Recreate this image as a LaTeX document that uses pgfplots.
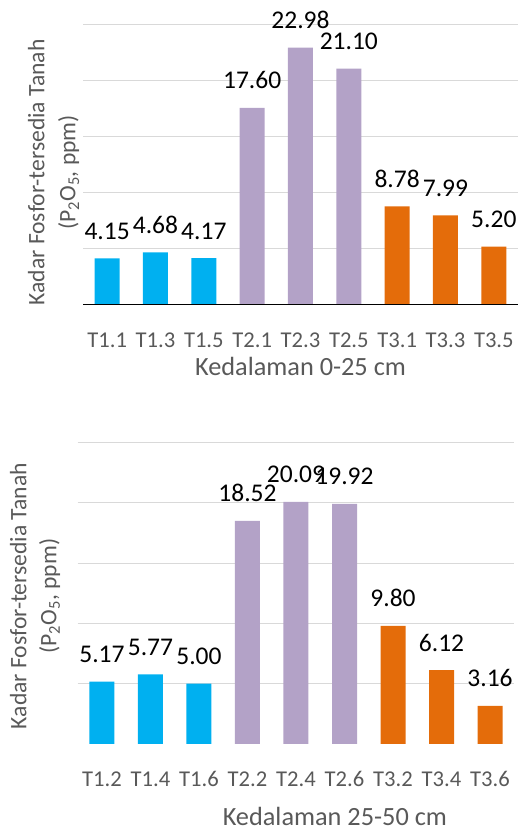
\documentclass[border=0pt]{standalone}
\usepackage{fontspec}
\setmainfont{Carlito}
\usepackage{pgfplots}
\pgfplotsset{compat=1.18}

\definecolor{barblue}{HTML}{00B0F0}
\definecolor{barlilac}{HTML}{B3A2C7}
\definecolor{barorange}{HTML}{E46C0A}
\definecolor{txtgray}{HTML}{595959}
\definecolor{gridgray}{HTML}{D9D9D9}

% common look of both depth panels
\pgfplotsset{
  soilbars/.style={
    scale only axis,
    ybar, bar width=25bp,
    xmin=-0.5, xmax=8.5, ymin=0, ymax=25,
    xtick={0,...,8},
    ytick={5,10,15,20,25}, yticklabels={},
    ymajorgrids,
    major grid style={gridgray, line width=1bp},
    separate axis lines,
    axis x line*=bottom, axis y line*=left,
    x axis line style={draw=none},
    y axis line style={draw=none},
    major tick style={draw=none},
    xticklabel style={font=\fontsize{22.6bp}{26bp}\selectfont, txtgray,
      anchor=base, yshift=-38.6bp},
    nodes near coords,
    /pgf/number format/.cd, fixed, fixed zerofill, precision=2,
      assume math mode=true,
    /pgfplots/.cd,
    every node near coord/.append style={font=\fontsize{25.5bp}{30bp}\selectfont,
      black, anchor=base, yshift=19bp, inner sep=0pt},
    every axis plot/.append style={draw=none, bar shift=0pt},
  }
}

\begin{document}
\begin{tikzpicture}
\useasboundingbox (0,0) rectangle (524bp,832bp);

% depth 0-25 cm
\begin{axis}[soilbars,
  at={(83bp,527.3bp)}, anchor=south west,
  width=435bp, height=279.7bp,
  xticklabels={T1.1,T1.3,T1.5,T2.1,T2.3,T2.5,T3.1,T3.3,T3.5},
  xlabel={Kedalaman 0-25 cm},
  xlabel style={font=\fontsize{26.3bp}{30bp}\selectfont, txtgray, inner sep=0pt,
    at={(axis description cs:0.5,0)}, anchor=base, yshift=-71.3bp},
  ylabel={Kadar Fosfor-tersedia Tanah\\(P\textsubscript{2}O\textsubscript{5}, ppm)},
  ylabel style={font=\fontsize{23.6bp}{31bp}\selectfont, txtgray, align=center,
    at={(axis description cs:-0.0676,0.473)}, anchor=center},
]
\addplot[fill=barblue]   coordinates {(0,4.15) (1,4.68) (2,4.17)};
\addplot[fill=barlilac]  coordinates {(3,17.60) (4,22.98) (5,21.10)};
\addplot[fill=barorange] coordinates {(6,8.78) (7,7.99) (8,5.20)};
\draw[black, line width=1bp] (rel axis cs:0,0) -- (rel axis cs:1,0);
\end{axis}

% depth 25-50 cm
\begin{axis}[soilbars,
  at={(77.7bp,88bp)}, anchor=south west,
  width=436.6bp, height=301.3bp,
  xticklabels={T1.2,T1.4,T1.6,T2.2,T2.4,T2.6,T3.2,T3.4,T3.6},
  xlabel={Kedalaman 25-50 cm},
  xlabel style={font=\fontsize{26.3bp}{30bp}\selectfont, txtgray, inner sep=0pt,
    at={(axis description cs:0.589,0)}, anchor=base, yshift=-81.3bp},
  ylabel={Kadar Fosfor-tersedia Tanah\\(P\textsubscript{2}O\textsubscript{5}, ppm)},
  ylabel style={font=\fontsize{23.6bp}{30bp}\selectfont, txtgray, align=center,
    at={(axis description cs:-0.0978,0.491)}, anchor=center},
]
\addplot[fill=barblue]   coordinates {(0,5.17) (1,5.77) (2,5.00)};
\addplot[fill=barlilac]  coordinates {(3,18.52) (4,20.09) (5,19.92)};
\addplot[fill=barorange] coordinates {(6,9.80) (7,6.12) (8,3.16)};
\draw[black, line width=1bp] (rel axis cs:0,0) -- (rel axis cs:1,0);
\end{axis}
\end{tikzpicture}
\end{document}
